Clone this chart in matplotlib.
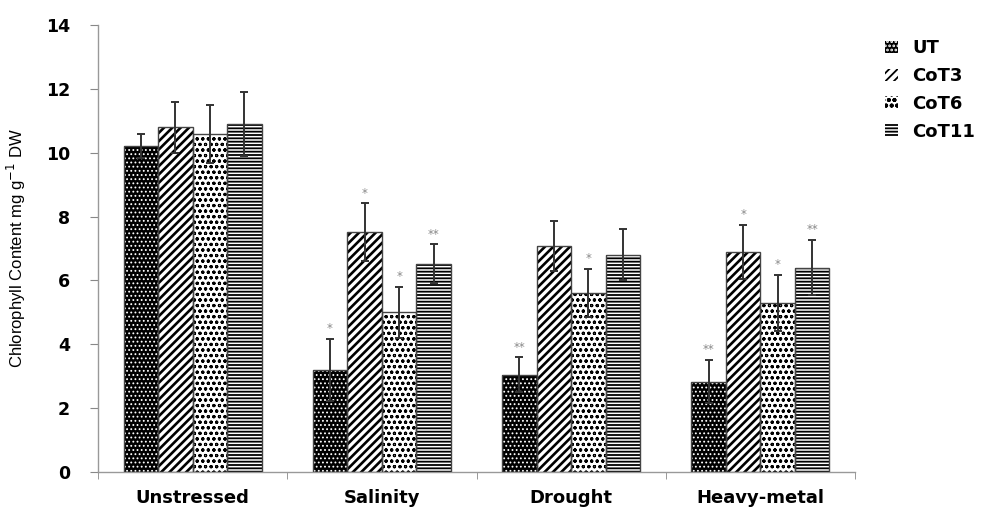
import matplotlib
matplotlib.use("Agg")
import matplotlib.pyplot as plt
import matplotlib.patches as mpatches
import numpy as np

categories = ["Unstressed", "Salinity", "Drought", "Heavy-metal"]
series = ["UT", "CoT3", "CoT6", "CoT11"]
ut = [10.2, 3.19, 3.04, 2.83]
cot3 = [10.8, 7.51, 7.08, 6.88]
cot6 = [10.59, 5.0, 5.6, 5.30]
cot11 = [10.89, 6.53, 6.81, 6.40]
ut_err = [0.38, 0.97, 0.55, 0.68]
cot3_err = [0.8, 0.9, 0.78, 0.85]
cot6_err = [0.9, 0.8, 0.75, 0.88]
cot11_err = [1.0, 0.6, 0.81, 0.87]
ut_sig = ["", "*", "**", "**"]
cot3_sig = ["", "*", "", "*"]
cot6_sig = ["", "*", "*", "*"]
cot11_sig = ["", "**", "", "**"]
yticks = [0, 2, 4, 6, 8, 10, 12, 14]

values = [ut, cot3, cot6, cot11]
errors = [ut_err, cot3_err, cot6_err, cot11_err]
sigs = [ut_sig, cot3_sig, cot6_sig, cot11_sig]
# (facecolor, hatchcolor, hatch)
styles = [("black", "white", "...."),
          ("white", "black", "////"),
          ("white", "black", "ooo"),
          ("white", "black", "-----")]
hatch_lw = [0.8, 1.9, 0.8, 1.3]

fig = plt.figure(figsize=(9.84, 5.08), dpi=100)
ax = fig.add_axes([98/984, 36/508, (855-98)/984, (472-25)/508])

x = np.arange(len(categories))
w = 0.1825
offsets = [-1.5*w, -0.5*w, 0.5*w, 1.5*w]

for i in range(4):
    fc, hc, h = styles[i]
    plt.rcParams["hatch.linewidth"] = hatch_lw[i]
    ax.bar(x + offsets[i], values[i], w, color=fc, edgecolor=hc, hatch=h, linewidth=0, zorder=2)
    ax.bar(x + offsets[i], values[i], w, fill=False, edgecolor="#444444", linewidth=1.0, zorder=3)
    ax.errorbar(x + offsets[i], values[i], yerr=errors[i], fmt="none", ecolor="#333333",
                elinewidth=1.4, capsize=2.8, capthick=1.4, zorder=4)
    for j in range(len(categories)):
        if sigs[i][j]:
            ax.text(x[j] + offsets[i], values[i][j] + errors[i][j] + 0.12, sigs[i][j],
                    ha="center", va="bottom", fontsize=8.5, color="#888888", zorder=5)

ax.set_xlim(-0.5, 3.5)
ax.set_ylim(0, 14)
ax.set_yticks(yticks)
ax.set_yticklabels([str(v) for v in yticks], fontsize=12.5, fontweight="bold")
ax.set_xticks(x)
ax.set_xticklabels(categories, fontsize=13, fontweight="bold")
ax.set_xticks(np.arange(-0.5, 4.0, 1.0), minor=True)
ax.tick_params(axis="x", which="major", length=0, pad=12)
ax.tick_params(axis="x", which="minor", length=5, color="#888888", direction="out")
ax.tick_params(axis="y", length=6, color="#888888", direction="out", pad=14)
for s in ["top", "right"]:
    ax.spines[s].set_visible(False)
for s in ["left", "bottom"]:
    ax.spines[s].set_color("#999999")
    ax.spines[s].set_linewidth(1.0)

ax.set_ylabel("Chlorophyll Content mg g$^{-1}$ DW", family=["Liberation Sans Narrow", "Liberation Sans", "DejaVu Sans"],
              fontsize=12)
ax.yaxis.set_label_coords(-0.092, 0.5)

handles = []
for i in range(4):
    fc, hc, h = styles[i]
    plt.rcParams["hatch.linewidth"] = hatch_lw[i]
    handles.append(mpatches.Patch(facecolor=fc, edgecolor=hc, hatch=h, linewidth=0))
fig.legend(handles, series, loc="upper left", bbox_to_anchor=(878/984, 1 - 32/508),
           frameon=False, prop={"weight": "bold", "size": 13}, handlelength=0.7,
           handleheight=0.7, handletextpad=0.8, labelspacing=0.55, borderaxespad=0)

fig.savefig("out.png", dpi=100)
